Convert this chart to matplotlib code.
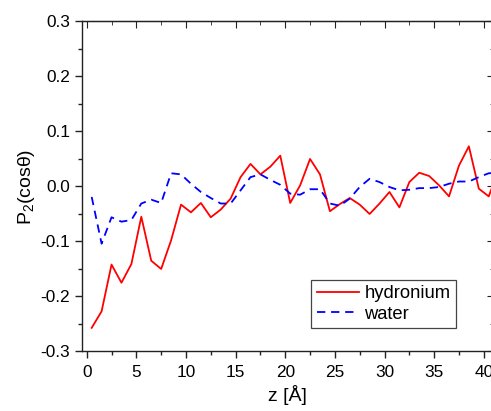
import numpy as np
import matplotlib
matplotlib.use("Agg")
from matplotlib import pyplot as plt
from matplotlib.ticker import MultipleLocator, FormatStrFormatter

plt.rcParams['font.family'] = ['Liberation Sans', 'DejaVu Sans']
plt.rcParams['axes.unicode_minus'] = False
plt.rcParams['mathtext.fontset'] = 'custom'
plt.rcParams['mathtext.rm'] = 'Liberation Sans'
plt.rcParams['mathtext.it'] = 'Liberation Sans'

# distance from the surface, bin centres
z = np.arange(0.5, 42.0, 1.0)

p2_hydronium = [-0.257, -0.227, -0.142, -0.175, -0.141, -0.055, -0.135, -0.150,
                -0.098, -0.033, -0.047, -0.030, -0.056, -0.042, -0.022, 0.017,
                0.041, 0.022, 0.036, 0.056, -0.030, 0.002, 0.050, 0.022,
                -0.045, -0.032, -0.021, -0.033, -0.050, -0.031, -0.010, -0.038,
                0.008, 0.025, 0.019, 0.002, -0.018, 0.038, 0.073, -0.004,
                -0.018, 0.030]

p2_water = [-0.019, -0.104, -0.056, -0.064, -0.061, -0.031, -0.024, -0.030,
            0.024, 0.022, 0.005, -0.010, -0.021, -0.031, -0.031, -0.007,
            0.017, 0.022, 0.012, 0.003, -0.013, -0.015, -0.005, -0.005,
            -0.031, -0.035, -0.022, -0.001, 0.014, 0.008, -0.001, -0.007,
            -0.006, -0.003, -0.003, -0.001, 0.005, 0.009, 0.009, 0.017,
            0.024, 0.025]

fig = plt.figure(figsize=(4.91, 4.11), dpi=100)
ax = fig.add_axes([0.1665, 0.1448, 0.839, 0.803])

ax.plot(z, p2_hydronium, color='#ff0000', lw=1.3, label='hydronium')
ax.plot(z, p2_water, color='#0000ff', lw=1.3, dashes=(4.6, 3.2), label='water')

ax.set_xlim(-0.5, 41)
ax.set_ylim(-0.3, 0.3)

ax.xaxis.set_major_locator(MultipleLocator(5))
ax.xaxis.set_minor_locator(MultipleLocator(2.5))
ax.yaxis.set_major_locator(MultipleLocator(0.1))
ax.yaxis.set_minor_locator(MultipleLocator(0.05))
ax.yaxis.set_major_formatter(FormatStrFormatter('%.1f'))

for sp in ax.spines.values():
    sp.set_color('#222222')
    sp.set_linewidth(1.0)

# outward ticks on bottom/left, inward mirror ticks on top/right
ax.tick_params(which='both', direction='out', top=False, right=False,
               labelsize=12.4, color='#222222', width=1.0)
ax.tick_params(which='major', length=5)
ax.tick_params(which='minor', length=3)
ax.tick_params(axis='x', pad=4.5)

axt = ax.secondary_xaxis('top')
axt.xaxis.set_major_locator(MultipleLocator(5))
axt.xaxis.set_minor_locator(MultipleLocator(2.5))
axt.tick_params(which='both', direction='in', labeltop=False, color='#222222')
axt.tick_params(which='major', length=5)
axt.tick_params(which='minor', length=3)

axr = ax.secondary_yaxis('right')
axr.yaxis.set_major_locator(MultipleLocator(0.1))
axr.yaxis.set_minor_locator(MultipleLocator(0.05))
axr.tick_params(which='both', direction='in', labelright=False, color='#222222')
axr.tick_params(which='major', length=5)
axr.tick_params(which='minor', length=3)

ax.set_xlabel('z [Å]', fontsize=14, labelpad=4)
ax.set_ylabel('P$_2$(cosθ)', fontsize=14, labelpad=2)

leg = ax.legend(loc='lower left', bbox_to_anchor=(0.557, 0.07), fontsize=13.2,
                handlelength=2.3, handletextpad=0.3, borderpad=0.3,
                labelspacing=0.2, fancybox=False, framealpha=1,
                borderaxespad=0)
leg.get_frame().set_edgecolor('#444444')
leg.get_frame().set_linewidth(0.9)

fig.savefig('out.png', dpi=100)
